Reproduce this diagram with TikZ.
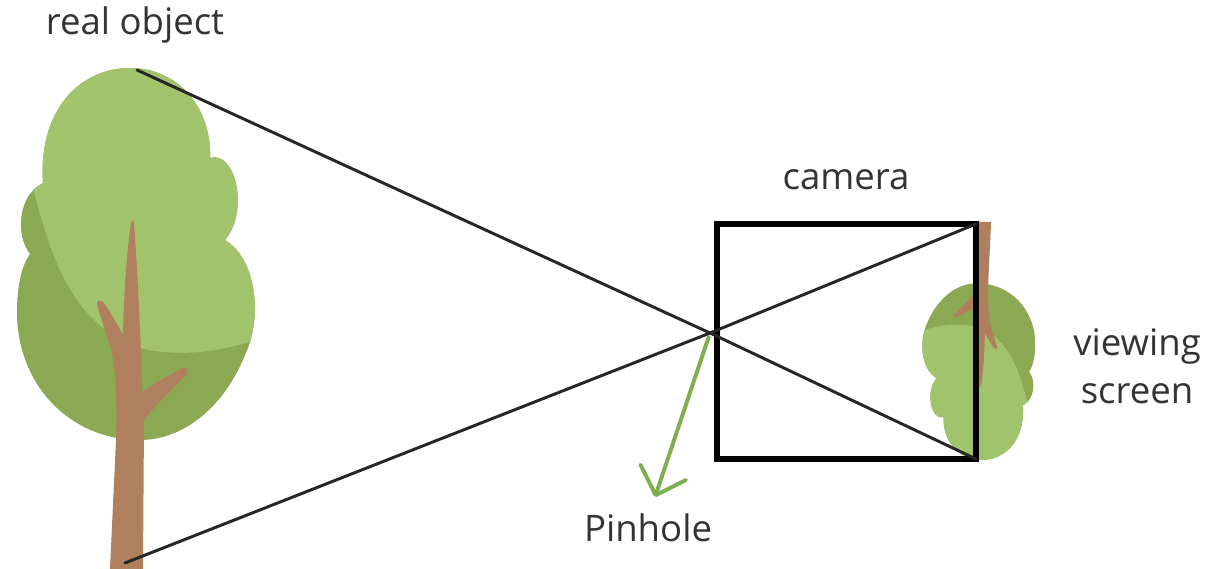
\documentclass[tikz,border=0pt]{standalone}
\usepackage{fontspec}
\setmainfont{Open Sans}
\usetikzlibrary{arrows.meta}
\usetikzlibrary{calc}

\definecolor{leaf light}{HTML}{A0C36C}
\definecolor{leaf dark}{HTML}{8BA852}
\definecolor{bark}{HTML}{B07F5E}
\definecolor{pointer green}{HTML}{7EAF4E}
\colorlet{ray colour}{black!85}
\colorlet{label colour}{black!80}

\tikzset{
    % Rays of light through the pinhole
    ray/.style={color=ray colour, line width=2.1pt, line cap=round},
    % The camera body, corners sit on the line centre
    camera box/.style={draw, line width=3.8pt, rectangle, inner sep=0,
        outer sep=0, minimum width=6.475cm, minimum height=5.875cm},
    % All the text labels
    label/.style={text=label colour, font=\fontsize{26}{34}\selectfont,
        align=center, inner sep=0},
    pointer/.style={pointer green, line width=2.8pt, line cap=round,
        -{Straight Barb[length=0.6cm, width=1.2cm, round]}},
%
    % Outline of the tree crown, in pixel units
    crown/.style={insert path={(130,68)
        .. controls (180,68) and (212,110) .. (210,158)
        .. controls (235,150) and (250,210) .. (225,240)
        .. controls (258,260) and (262,320) .. (245,355)
        .. controls (225,405) and (185,440) .. (140,440)
        .. controls (70,440) and (17,385) .. (17,312)
        .. controls (17,285) and (22,265) .. (30,254)
        .. controls (15,235) and (18,195) .. (43,183)
        .. controls (38,110) and (80,68) .. (130,68) -- cycle}},
%
    % A tree, drawn with the foot of the trunk as origin
    tree/.pic={
        \begin{scope}[shift={(-127,-569)}]
        \path[fill=leaf dark, crown];
        \begin{scope}
            \clip[crown];
            \fill[leaf light] (0,150) -- (30,175)
                .. controls (48,250) and (70,325) .. (140,348)
                .. controls (180,358) and (225,352) .. (270,335)
                -- (270,50) -- (0,50) -- cycle;
        \end{scope}
        % trunk with its two branches
        \fill[bark] (110,569) -- (116,440)
            .. controls (117,400) and (116,370) .. (111,348)
            .. controls (105,330) and (100,315) .. (97,305)
            .. controls (96,300) and (101,299) .. (104,303)
            .. controls (112,315) and (118,325) .. (123,335)
            .. controls (124,290) and (127,250) .. (131,223)
            .. controls (132,220) and (134,220) .. (134,223)
            .. controls (138,280) and (141,340) .. (142,392)
            .. controls (155,383) and (170,375) .. (183,368)
            .. controls (188,366) and (189,372) .. (186,375)
            .. controls (172,390) and (155,405) .. (144,420)
            -- (143,569) -- cycle;
        \end{scope}
    },
}

\begin{document}
\begin{tikzpicture}[x=0.025cm, y=-0.025cm]
\useasboundingbox (0,0) rectangle (1209,569);

% The real tree and its upside-down image
\pic at (127,569) {tree};
\pic[rotate=180, scale=0.475] at (983,222) {tree};

\coordinate (tree top) at (137,70);
\coordinate (tree foot) at (125,563);
\coordinate (pinhole) at (710,333);

\node[camera box] (camera) at (846.5,341.5) {};

% Rays from the object, crossing at the pinhole
\draw[ray] (tree top) -- (pinhole) -- (camera.south east);
\draw[ray] (tree foot) -- (pinhole) -- (camera.north east);

\node[label] (object label) at (135,25) {real object};
\node[label] (camera label) at (846,180) {camera};
\node[label] (screen label) at (1137,366) {viewing\\screen};
\node[label] (pinhole label) at (648,528) {Pinhole};

\coordinate (pointer end) at (655,497);
\draw[pointer, shorten <=3pt] (pinhole) -- (pointer end);

\end{tikzpicture}
\end{document}
